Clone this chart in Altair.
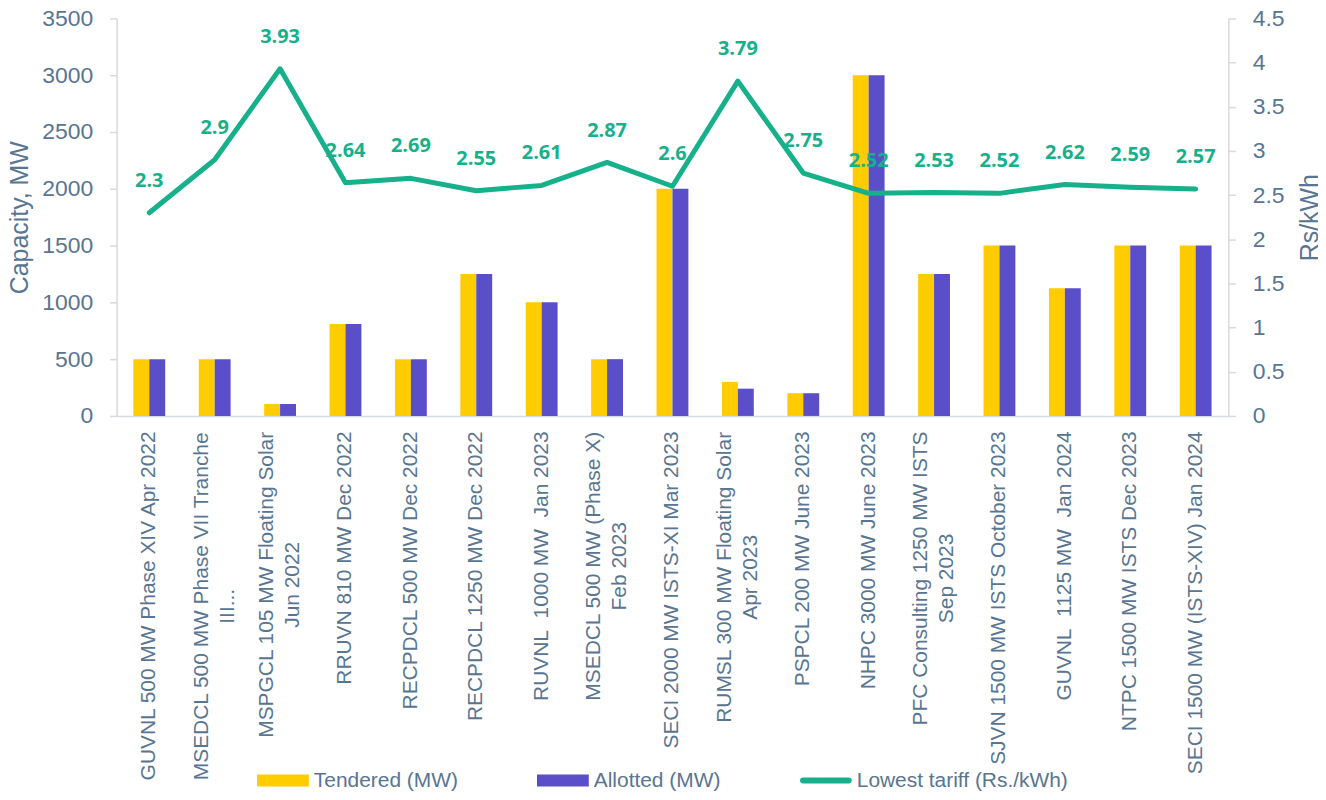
import altair as alt
import pandas as pd

# ---------------- data ----------------
categories = [
    "GUVNL 500 MW Phase XIV Apr 2022",
    "MSEDCL 500 MW Phase VII Tranche\nIII...",
    "MSPGCL 105 MW Floating Solar\nJun 2022",
    "RRUVN 810 MW Dec 2022",
    "RECPDCL 500 MW Dec 2022",
    "RECPDCL 1250 MW Dec 2022",
    "RUVNL\u00a0 1000 MW\u00a0 Jan 2023",
    "MSEDCL 500 MW (Phase X)\nFeb 2023",
    "SECI 2000 MW ISTS-XI Mar 2023",
    "RUMSL 300 MW Floating Solar\nApr 2023",
    "PSPCL 200 MW June 2023",
    "NHPC 3000 MW June 2023",
    "PFC Consulting 1250 MW ISTS\nSep 2023",
    "SJVN 1500 MW ISTS October 2023",
    "GUVNL\u00a0 1125 MW\u00a0 Jan 2024",
    "NTPC 1500 MW ISTS Dec 2023",
    "SECI 1500 MW (ISTS-XIV) Jan 2024",
]
tendered = [500, 500, 105, 810, 500, 1250, 1000, 500, 2000, 300, 200, 3000, 1250, 1500, 1125, 1500, 1500]
allotted = [500, 500, 105, 810, 500, 1250, 1000, 500, 2000, 240, 200, 3000, 1250, 1500, 1125, 1500, 1500]
tariff = [2.3, 2.9, 3.93, 2.64, 2.69, 2.55, 2.61, 2.87, 2.6, 3.79, 2.75, 2.52, 2.53, 2.52, 2.62, 2.59, 2.57]
series = ["Tendered (MW)", "Allotted (MW)", "Lowest tariff (Rs./kWh)"]
left_ticks = [0, 500, 1000, 1500, 2000, 2500, 3000, 3500]
right_ticks = [0, 0.5, 1, 1.5, 2, 2.5, 3, 3.5, 4, 4.5]

# ---------------- styling ----------------
YELLOW, PURPLE, GREEN = "#FFCC00", "#5A4FC8", "#16B08A"
TXT = "#587591"
AXC = "#D9D9D9"
FONT = "Liberation Sans"
XLAB_SIZE = 21
XLAB_PAD = 15


# approximate Arial / Liberation Sans advance widths (em) - used to centre
# the second line of two-line labels under the first, as Excel does
def _w(s):
    up = {"M": .833, "W": .944, "I": .278, "C": .722, "G": .778, "N": .722, "U": .722,
          "D": .722, "H": .722, "R": .722, "O": .778, "Q": .778, "L": .556, "J": .5,
          "F": .611, "T": .611, "Z": .611}
    lo = {"i": .222, "l": .222, "j": .222, "f": .278, "t": .278, "r": .333, "s": .5, "c": .5,
          "k": .5, "v": .5, "x": .5, "y": .5, "z": .5, "m": .833, "w": .722}
    t = 0
    for ch in s:
        if ch.isupper():
            t += up.get(ch, .667)
        elif ch.islower():
            t += lo.get(ch, .556)
        elif ch.isdigit():
            t += .556
        elif ch in "()-":
            t += .333
        else:
            t += .278
    return t


pad_conditions = []
for c in categories:
    if "\n" in c:
        first = c.split("\n")[0]
        pad_conditions.append({
            "test": f"indexof(datum.label, '{first}') == 0",
            "value": round(XLAB_PAD + _w(first) * XLAB_SIZE / 2, 1),
        })
is_multi = "indexof(datum.label, '\\n') >= 0"

n = len(categories)
bar_df = pd.DataFrame({
    "category": categories * 2,
    "series": [series[0]] * n + [series[1]] * n,
    "value": tendered + allotted,
})
line_df = pd.DataFrame({"category": categories, "tariff": tariff})
leg_df = pd.DataFrame({"series": series})

color_scale = alt.Scale(domain=series, range=[YELLOW, PURPLE, GREEN])
rect = "M-1,-0.23L1,-0.23L1,0.23L-1,0.23Z"
lin = "M-0.885,-0.115L0.885,-0.115A0.115,0.115 0 0 1 0.885,0.115L-0.885,0.115A0.115,0.115 0 0 1 -0.885,-0.115Z"
shape_scale = alt.Scale(domain=series, range=[rect, rect, lin])

legend = alt.Legend(
    title=None, orient="none", legendX=141, legendY=739, direction="horizontal",
    symbolSize=2704, symbolStrokeWidth=0, symbolOpacity=1, labelFont=FONT, labelFontSize=21,
    labelColor=TXT, labelOffset=5, columnPadding=79, labelLimit=500, padding=0,
)

x_enc = alt.X(
    "category:N", sort=categories,
    scale=alt.Scale(paddingInner=0.513, paddingOuter=0.2565),
    axis=alt.Axis(
        title=None, labelAngle=270,
        labelAlign={"condition": {"test": is_multi, "value": "center"}, "value": "right"},
        labelPadding={"condition": pad_conditions, "value": XLAB_PAD},
        labelOffset={"condition": {"test": is_multi, "value": -13}, "value": 0},
        labelBaseline="middle",
        labelFont=FONT, labelFontSize=XLAB_SIZE, labelColor=TXT,
        labelLimit=600, labelLineHeight=26, ticks=False, domainColor="#D6DCE4",
        domainWidth=1.5, labelOverlap=False, labelExpr="split(datum.label, '\\n')",
    ),
)

bars = alt.Chart(bar_df).mark_bar().encode(
    x=x_enc,
    xOffset=alt.XOffset("series:N", sort=series[:2], scale=alt.Scale(paddingInner=0, paddingOuter=0)),
    y=alt.Y(
        "value:Q", scale=alt.Scale(domain=[0, 3500], nice=False),
        axis=alt.Axis(
            title="Capacity, MW", orient="left", values=left_ticks, format="d", grid=False,
            tickSize=7, tickColor=AXC, tickWidth=1.5, domainColor=AXC, domainWidth=1.5,
            labelFont=FONT, labelFontSize=23, labelColor=TXT, labelPadding=17,
            titleFont=FONT, titleFontSize=25, titleFontWeight="normal", titleColor=TXT,
            titleAngle=270, titleX=-89, titleY=199.5, titleAlign="center", titleBaseline="alphabetic",
        ),
    ),
    color=alt.Color("series:N", scale=color_scale, legend=legend),
)

legend_pts = alt.Chart(leg_df).mark_point(filled=True, size=0).encode(
    color=alt.Color("series:N", scale=color_scale, legend=legend),
    shape=alt.Shape("series:N", scale=shape_scale, legend=legend),
)

right_scale = alt.Scale(domain=[0, 4.5], nice=False)

line = alt.Chart(line_df).mark_line(
    color=GREEN, strokeWidth=5, strokeCap="round", strokeJoin="round"
).encode(
    x=alt.X("category:N", sort=categories),
    y=alt.Y(
        "tariff:Q", scale=right_scale,
        axis=alt.Axis(
            title="Rs/kWh", orient="right", values=right_ticks, format=".1~f", grid=False,
            tickSize=7, tickColor=AXC, tickWidth=1.5, domainColor=AXC, domainWidth=1.5,
            labelFont=FONT, labelFontSize=23, labelColor=TXT, labelPadding=17,
            titleFont=FONT, titleFontSize=25, titleFontWeight="normal", titleColor=TXT,
            titleAngle=270, titleX=90, titleY=199.5, titleAlign="center", titleBaseline="alphabetic",
        ),
    ),
)

labels = alt.Chart(line_df).mark_text(
    color=GREEN, font="Open Sans", fontWeight="bold", fontSize=20, dy=-32,
    align="center", baseline="middle",
).encode(
    x=alt.X("category:N", sort=categories),
    y=alt.Y("tariff:Q", scale=right_scale),
    text=alt.Text("tariff:Q", format="~g"),
)

right = alt.layer(line, labels)

chart = alt.layer(bars, legend_pts, right).resolve_scale(y="independent").properties(
    width=1116, height=399,
    autosize=alt.AutoSizeParams(type="none"),
    padding={"left": 109, "top": 9, "right": 90, "bottom": 375},
    background="white",
).configure_view(stroke=None)

chart.save("out.html", embed_options={"renderer": "svg", "actions": False})
